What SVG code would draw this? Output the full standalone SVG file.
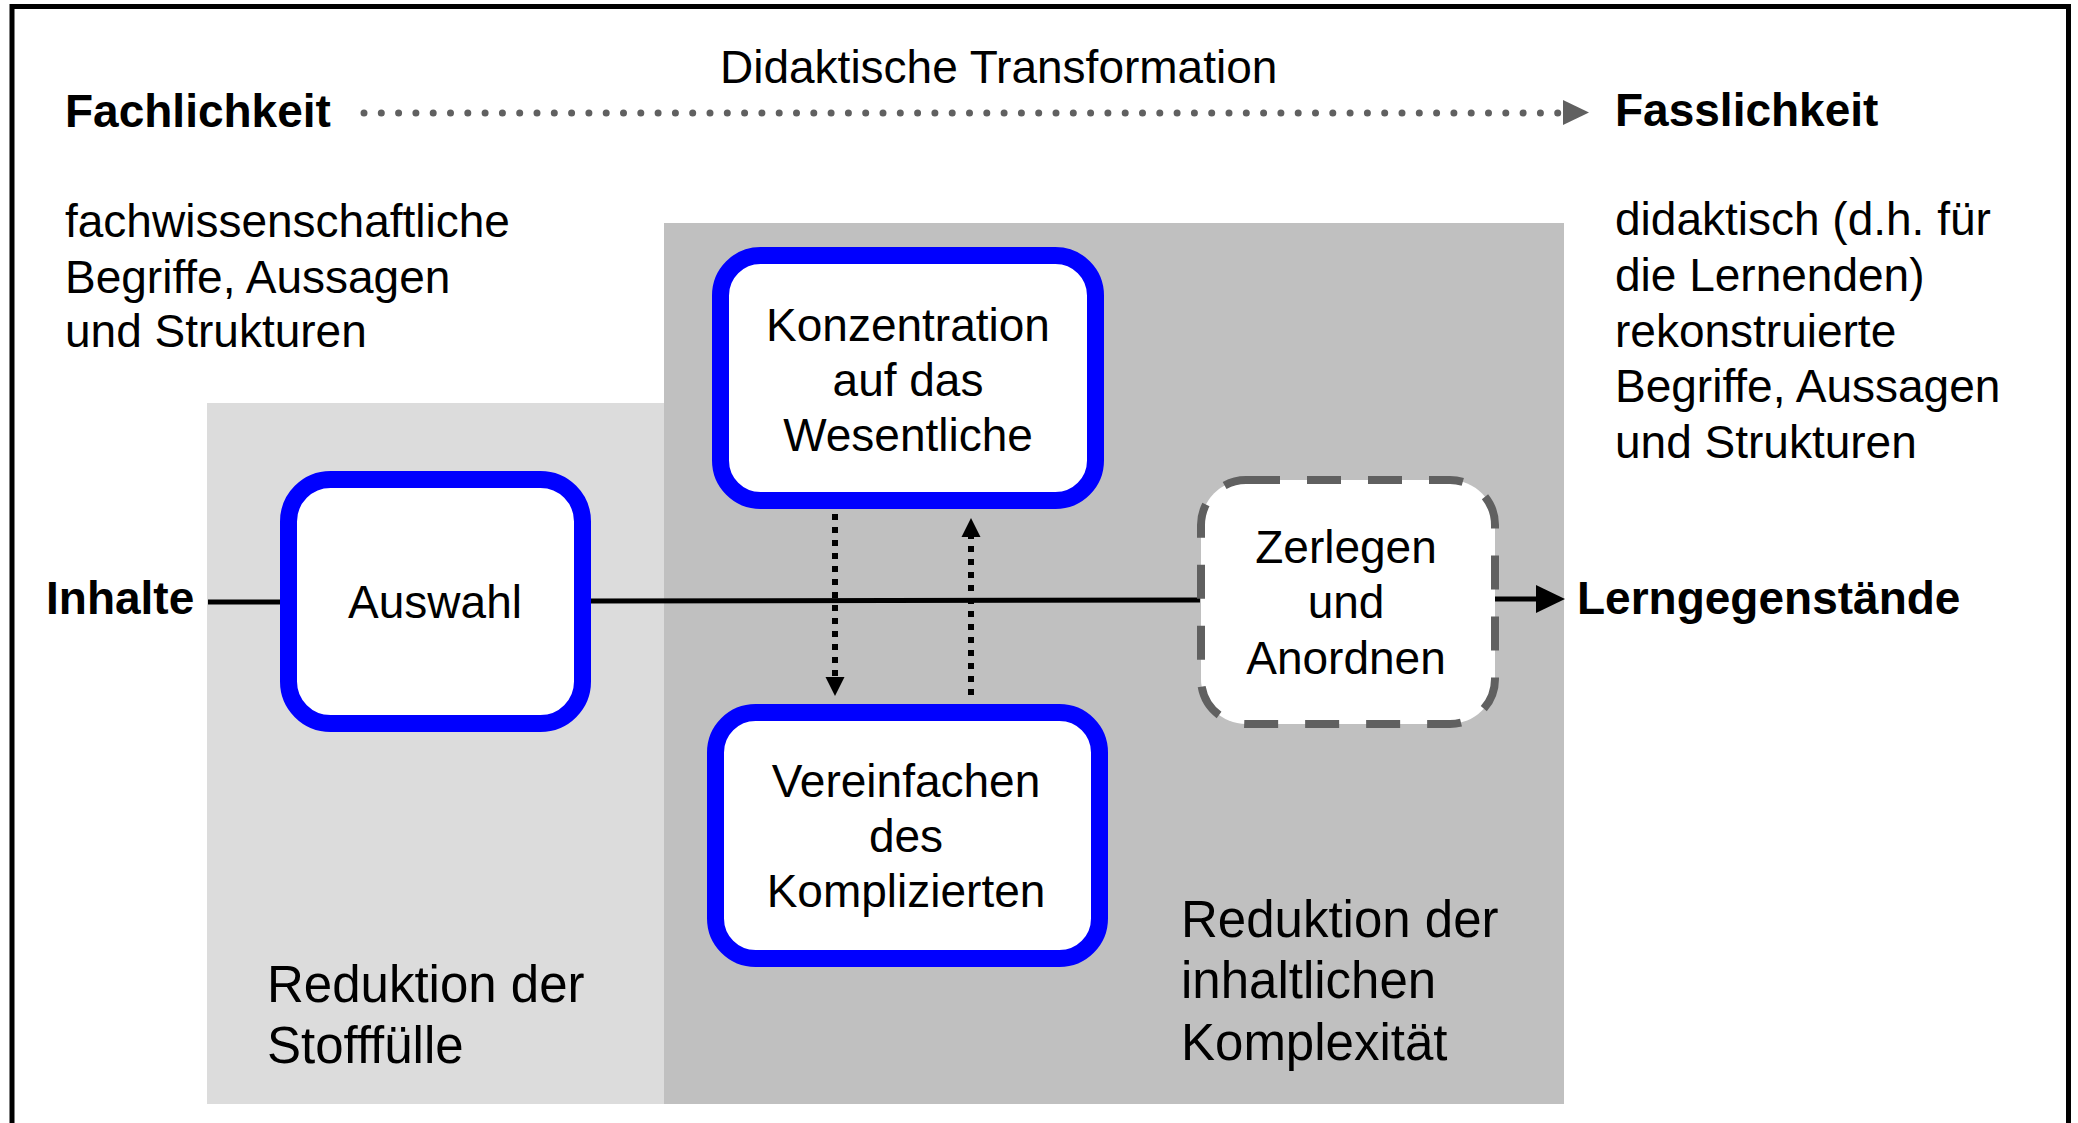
<svg xmlns="http://www.w3.org/2000/svg" width="2078" height="1123" viewBox="0 0 2078 1123">
<style>
text { font-family: "Liberation Sans", Arial, sans-serif; font-size: 46px; fill: #000; }
.b { font-weight: bold; }
.c { text-anchor: middle; }
.big { font-size: 51px; }
.blue { fill: #fff; stroke: #0000ff; stroke-width: 17; }
.dash { fill: #fff; stroke: #606060; stroke-width: 8; stroke-dasharray: 34 27; }
.flow { stroke: #000; stroke-width: 5; fill: none; }
.dot { stroke: #000; stroke-width: 6; stroke-dasharray: 6 7; fill: none; }
</style>
<rect x="0" y="0" width="2078" height="1123" fill="#fff"/>
<rect x="12" y="6.5" width="2056.5" height="1130" fill="none" stroke="#000" stroke-width="5"/>
<g id="panels">
<rect x="207" y="403" width="457" height="701" fill="#dcdcdc"/>
<rect x="664" y="223" width="900" height="881" fill="#c0c0c0"/>
</g>
<g id="header">
<text x="720" y="83">Didaktische Transformation</text>
<text class="b" x="65" y="127">Fachlichkeit</text>
<text class="b" x="1615" y="126">Fasslichkeit</text>
<line x1="364" y1="113" x2="1558" y2="113" stroke="#606060" stroke-width="7" stroke-linecap="round" stroke-dasharray="0 17.3"/>
<polygon points="1563,100 1589,112.5 1563,125" fill="#606060"/>
</g>
<g id="left-text">
<text x="65" y="237">fachwissenschaftliche</text>
<text x="65" y="293">Begriffe, Aussagen</text>
<text x="65" y="347">und Strukturen</text>
</g>
<g id="right-text">
<text x="1615" y="235">didaktisch (d.h. für</text>
<text x="1615" y="291">die Lernenden)</text>
<text x="1615" y="347">rekonstruierte</text>
<text x="1615" y="402">Begriffe, Aussagen</text>
<text x="1615" y="458">und Strukturen</text>
</g>
<g id="connectors">
<line class="flow" x1="208" y1="602" x2="282" y2="602"/>
<line class="flow" x1="590" y1="601" x2="1200" y2="600"/>
<line class="flow" x1="1495" y1="599" x2="1540" y2="599"/>
<polygon points="1536,585 1565,599 1536,613" fill="#000"/>
<line class="dot" x1="835" y1="514" x2="835" y2="679"/>
<polygon points="825.5,677 844.5,677 835,696" fill="#000"/>
<line class="dot" x1="971" y1="695" x2="971" y2="535"/>
<polygon points="961.5,537 980.5,537 971,518" fill="#000"/>
</g>
<g id="inhalte"><text class="b" x="46" y="614">Inhalte</text></g>
<g id="lerngegenstaende"><text class="b" x="1577" y="614">Lerngegenstände</text></g>
<g id="auswahl">
<rect class="blue" x="288.5" y="479.5" width="294" height="244" rx="42"/>
<text class="c" x="435" y="618">Auswahl</text>
</g>
<g id="konzentration">
<rect class="blue" x="720.5" y="255.5" width="375" height="245" rx="40"/>
<text class="c" x="908" y="341">Konzentration</text>
<text class="c" x="908" y="396">auf das</text>
<text class="c" x="908" y="451">Wesentliche</text>
</g>
<g id="vereinfachen">
<rect class="blue" x="715.5" y="712.5" width="384" height="246" rx="40"/>
<text class="c" x="906" y="797">Vereinfachen</text>
<text class="c" x="906" y="852">des</text>
<text class="c" x="906" y="907">Komplizierten</text>
</g>
<g id="zerlegen">
<rect class="dash" x="1201" y="480" width="294" height="244" rx="45"/>
<text class="c" x="1346" y="563">Zerlegen</text>
<text class="c" x="1346" y="618">und</text>
<text class="c" x="1346" y="674">Anordnen</text>
</g>
<g id="labels">
<text class="big" x="267" y="1002">Reduktion der</text>
<text class="big" x="267" y="1063">Stofffülle</text>
<text class="big" x="1181" y="937">Reduktion der</text>
<text class="big" x="1181" y="998">inhaltlichen</text>
<text class="big" x="1181" y="1060">Komplexität</text>
</g>
</svg>
